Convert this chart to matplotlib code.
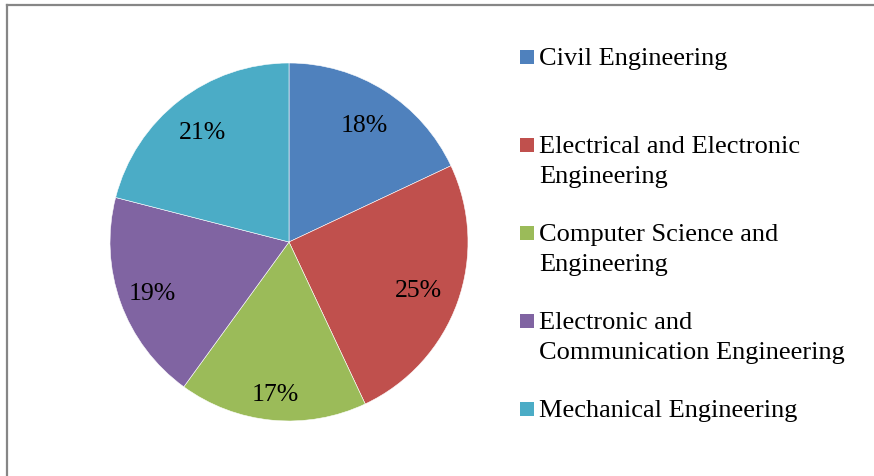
import numpy as np
import matplotlib.pyplot as plt
from matplotlib.lines import Line2D
from matplotlib.patches import Rectangle

plt.rcParams['font.family'] = ['Liberation Serif', 'DejaVu Serif']

departments = ['Civil Engineering',
               'Electrical and Electronic\nEngineering',
               'Computer Science and\nEngineering',
               'Electronic and\nCommunication Engineering',
               'Mechanical Engineering']
shares = [18, 25, 17, 19, 21]
colors = ['#4F81BD', '#C0504D', '#9BBB59', '#8064A2', '#4BACC6']
# radial placement of each percentage label (fraction of radius)
label_dist = [0.782, 0.771, 0.842, 0.81, 0.79]

W, H = 874, 476
fig = plt.figure(figsize=(W / 100, H / 100), dpi=100)

# pie centred at (289, 242) px, radius 179 px
cx, cy, r = 289, 242, 179
ax = fig.add_axes([(cx - r) / W, (H - cy - r) / H, 2 * r / W, 2 * r / H])
wedges, _, pcts = ax.pie(shares, colors=colors, startangle=90,
                         counterclock=False, autopct='%1.0f%%',
                         wedgeprops=dict(edgecolor='white', linewidth=0.4),
                         textprops=dict(fontsize=18.5, color='black'))
for w, t, d in zip(wedges, pcts, label_dist):
    mid = np.deg2rad((w.theta1 + w.theta2) / 2)
    t.set_position((d * np.cos(mid), d * np.sin(mid)))
    t.set_verticalalignment('center_baseline')
ax.set_xlim(-1, 1)
ax.set_ylim(-1, 1)
ax.set_aspect('equal')
ax.axis('off')

# legend drawn by hand: square marker beside the first line of each entry
for i, (name, col) in enumerate(zip(departments, colors)):
    y = 57 + i * 88
    fig.patches.append(Rectangle((520 / W, 1 - (y + 7) / H), 14 / W, 14 / H,
                                 transform=fig.transFigure, facecolor=col,
                                 edgecolor='none'))
    for k, line in enumerate(name.split('\n')):
        fig.text(539 / W, 1 - (y + 8 + k * 29.5) / H, line, fontsize=19,
                 va='baseline', ha='left')

# chart frame: top and left edges only
fig.add_artist(Line2D([7 / W, 1], [1 - 5 / H, 1 - 5 / H], color='#868686',
                      linewidth=1.6, transform=fig.transFigure))
fig.add_artist(Line2D([7 / W, 7 / W], [0, 1 - 5 / H], color='#868686',
                      linewidth=1.6, transform=fig.transFigure))

fig.savefig('out.png', dpi=100, facecolor='white')
